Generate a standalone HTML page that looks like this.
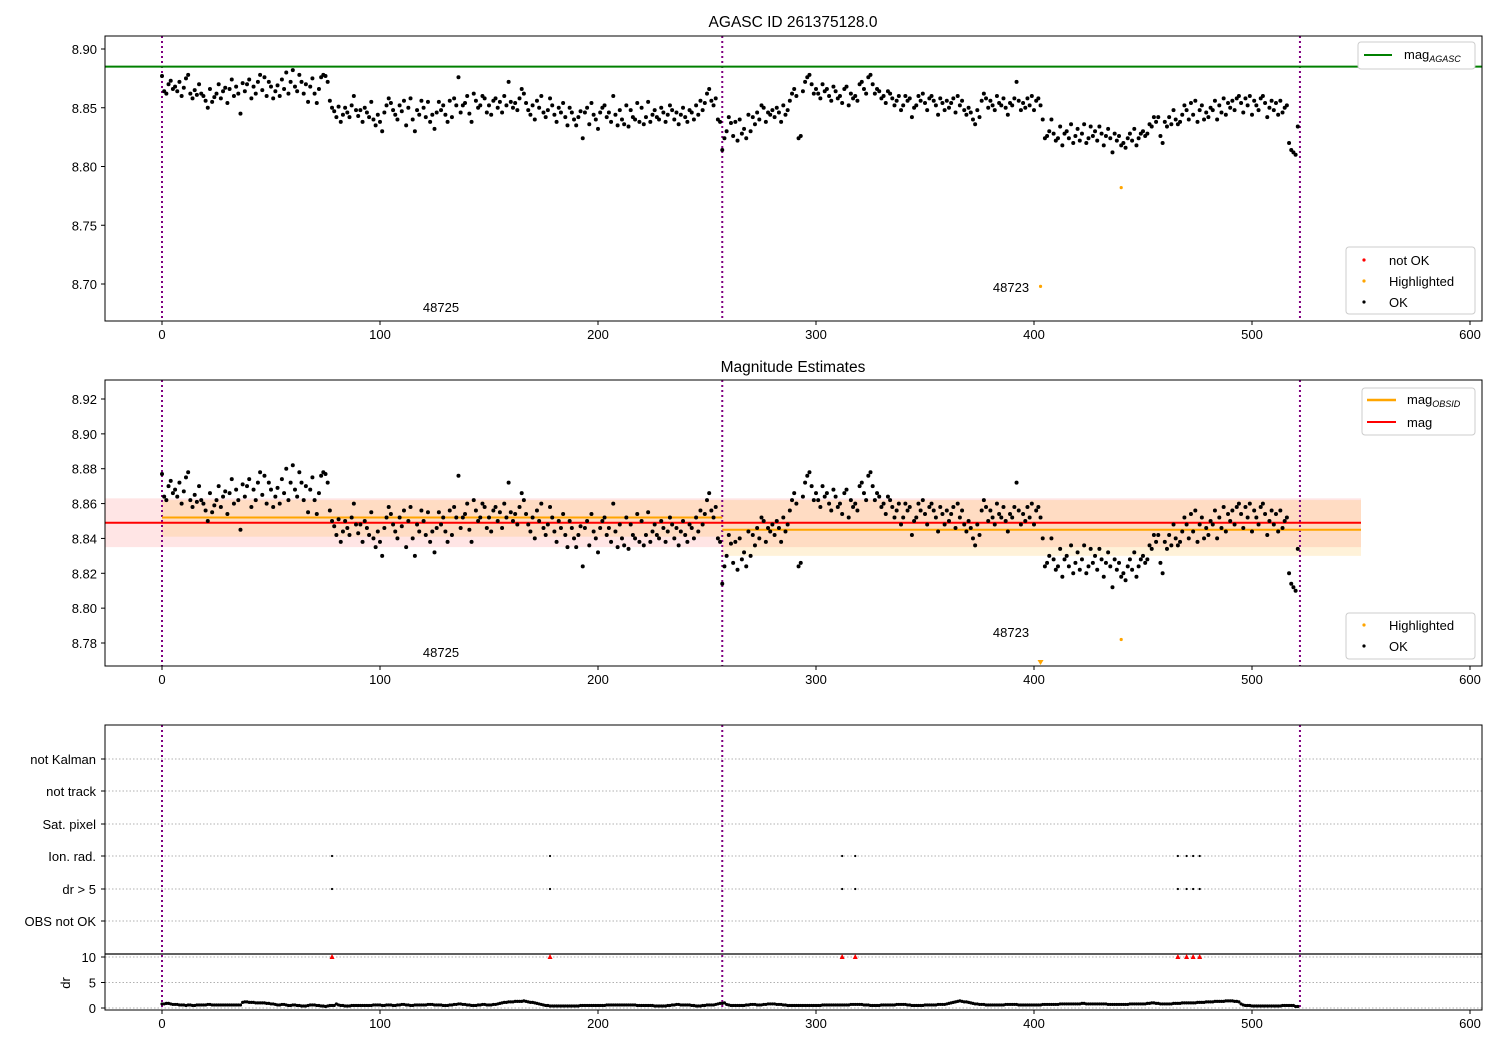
<!DOCTYPE html>
<html><head><meta charset="utf-8">
<style>
html,body{margin:0;padding:0;background:#fff;}
svg{display:block;font-family:"Liberation Sans","DejaVu Sans",sans-serif;}
</style></head>
<body>
<svg id="chart" width="1500" height="1050" viewBox="0 0 1500 1050" xmlns="http://www.w3.org/2000/svg"></svg>
<script>
// ---- data ----
const magMilli = [
77,64,62,70,73,66,68,64,72,60, 67,75,78,62,58,65,61,70,62,60, 56,50,66,55,59,62,70,58,64,67,
54,66,74,60,68,62,45,71,64,70, 74,58,68,62,72,78,65,76,60,72, 68,58,64,69,60,74,66,80,62,72,
82,68,64,78,72,62,70,55,68,75, 62,54,66,76,78,77,72,56,50,47, 42,51,38,44,50,46,42,52,60,48,
43,48,38,50,46,42,55,40,35,44, 38,30,46,52,58,54,48,44,40,52, 47,56,35,50,58,40,30,48,44,56,
50,42,55,38,44,32,46,55,48,52, 44,38,56,42,58,52,76,46,52,54, 60,45,38,62,56,50,52,60,58,46,
52,44,56,58,50,55,46,60,52,72, 55,50,54,48,58,66,62,54,48,44, 52,40,56,50,60,46,42,48,58,52,
44,38,50,46,54,42,35,50,46,40, 35,42,47,24,46,50,36,54,44,40, 32,46,50,52,42,46,38,60,44,35,
48,40,36,52,34,48,42,40,54,38, 50,36,42,55,38,44,48,42,40,50, 46,38,44,52,48,40,46,36,44,50,
42,38,48,46,40,52,44,56,48,54, 62,66,56,52,58,40,38,14,24,30, 42,37,26,38,22,40,28,32,24,44,
30,42,36,46,40,52,50,38,46,44, 48,42,50,46,38,52,44,48,56,62, 66,60,24,26,64,72,76,78,70,62,
66,62,58,70,64,66,60,56,68,64, 58,60,54,66,68,52,62,58,60,56, 70,72,66,62,76,78,70,62,66,64,
58,60,54,64,62,58,52,56,60,48, 52,60,56,58,42,50,52,60,56,62, 54,48,58,60,56,52,44,58,54,48,
56,50,54,58,46,60,52,56,48,44, 50,46,40,36,48,42,56,62,58,50, 56,52,48,60,54,52,58,50,44,54,
52,58,72,56,48,54,50,58,52,60, 48,56,58,52,40,24,26,30,40,28, 22,24,34,18,28,30,24,36,20,26,
32,22,28,36,20,24,34,26,30,22, 34,28,18,26,32,24,12,28,22,26, 18,20,16,24,28,22,32,18,24,28,
30,26,28,36,34,42,38,42,26,20, 38,34,42,36,48,40,36,38,44,52, 48,40,54,44,56,38,48,52,40,46,
42,50,48,56,40,52,46,58,44,54, 50,56,48,58,60,54,46,58,52,60, 44,56,52,48,58,60,54,42,50,56,
48,54,44,56,46,50,52,20,14,12, 10,34];
const drTenths = [
8,8,9,9,8,7,7,7,6,6, 6,5,6,6,5,5,6,6,6,6, 6,7,7,6,6,6,6,6,6,6, 6,6,6,6,6,6,6,11,12,12,
11,11,11,10,10,10,10,10,9,9, 8,8,7,6,6,7,7,6,5,5, 6,6,5,5,4,4,4,5,6,6, 6,5,5,4,4,3,4,5,5,5,
8,6,5,5,4,4,4,5,5,5, 5,5,5,5,5,5,5,6,6,6, 6,5,5,6,6,6,5,5,6,6, 7,7,6,6,5,5,6,6,6,6,
6,6,7,7,7,6,6,6,6,5, 5,5,6,6,7,7,8,8,7,7, 6,6,5,5,5,6,6,7,7,6, 6,6,7,7,8,9,10,11,11,12,
12,12,13,13,13,13,14,13,12,11, 11,10,9,8,7,6,5,5,4,4, 4,4,4,4,4,4,4,4,4,4, 4,4,5,5,5,5,5,5,5,5,
5,5,5,5,6,6,6,6,6,6, 6,6,6,6,6,6,6,6,5,5, 5,5,5,5,5,5,4,4,4,4, 4,4,5,5,6,6,7,7,6,6,
6,6,6,5,5,4,4,4,5,5, 6,6,6,6,7,8,9,9,10,7, 6,5,5,5,5,5,5,5,6,6, 7,7,7,6,6,6,7,7,8,8,
8,8,7,7,7,6,6,5,5,5, 5,5,5,5,5,5,5,5,5,5, 5,5,5,6,6,6,6,6,6,6, 6,6,6,6,6,6,7,7,7,7,
7,7,6,6,6,5,5,5,5,5, 6,6,6,6,6,6,6,7,7,7, 7,7,6,6,5,5,5,5,5,5, 6,6,6,6,6,6,7,7,7,7,
8,9,10,11,12,13,14,13,12,12, 11,10,9,8,8,7,7,7,6,6, 6,6,6,6,6,6,6,7,7,7, 7,7,7,6,6,6,6,6,6,6,
6,6,6,6,7,7,7,7,7,7, 7,7,8,8,8,8,8,8,8,8, 8,8,9,9,8,8,8,8,8,8, 8,8,8,8,7,7,7,7,7,7,
7,7,7,7,8,8,8,8,8,8, 8,8,9,9,10,10,9,9,8,8, 8,8,8,8,9,9,9,9,10,10, 10,10,10,10,10,11,11,11,11,12,
12,12,12,13,13,13,13,13,14,14, 14,14,13,13,12,8,6,5,5,5, 4,4,4,4,4,4,4,4,4,4, 4,4,4,4,5,5,5,5,5,5,
3,3];
const flagIdx = [78, 178, 312, 318, 466, 470, 473, 476];
const highlightIdx = [403, 440];
const highlightMag = [8.698, 8.782];
const obsBounds = [0, 257, 522];
const obsNames = ['48725', '48723'];
const magAgasc = 8.885;
const magAll = 8.849, magAllLo = 8.835, magAllHi = 8.863;
const obsMag = [8.852, 8.845];
const obsLo = [8.841, 8.830];
const obsHi = [8.862, 8.862];
const catLabels = ['not Kalman','not track','Sat. pixel','Ion. rad.','dr > 5','OBS not OK'];
const xTicks = [0,100,200,300,400,500,600];
const yTicksTop = [8.70,8.75,8.80,8.85,8.90];
const yTicksMid = [8.78,8.80,8.82,8.84,8.86,8.88,8.90,8.92];
const drTicks = [0,5,10];

// ---- scales ----
const L=105, R=1482;
const xs = v => 162 + 2.18*v;
const yT = m => 49 + (8.90-m)*1175;
const yM = m => 399 + (8.92-m)*1742.9;
const catY = [759,791,824,856,889,921];
const yD = d => 1008 - d*5.1;
const NS='http://www.w3.org/2000/svg';
const svg=document.getElementById('chart');
function mk(tag,attrs,parent){const e=document.createElementNS(NS,tag);for(const k in attrs)e.setAttribute(k,attrs[k]);(parent||svg).appendChild(e);return e;}
function txt(s,x,y,attrs,parent){const t=mk('text',Object.assign({x:x,y:y,'font-size':13,fill:'#000'},attrs||{}),parent);t.textContent=s;return t;}
const mags = magMilli.map(v=>8.8+v/1000);

// clip paths
const defs=mk('defs',{});
[['cT',36,285],['cM',380,286],['cB',725,285]].forEach(([id,y,h])=>{const c=mk('clipPath',{id:id},defs);mk('rect',{x:L,y:y,width:R-L,height:h},c);});

function xAxis(y0,g){
  xTicks.forEach(t=>{mk('line',{x1:xs(t),x2:xs(t),y1:y0,y2:y0+4,stroke:'#000'},g);
  const l=txt(String(t),xs(t),y0+18,{'text-anchor':'middle'},g);
  
  });
}
function vlines(g,y1,y2){obsBounds.forEach(b=>{const l=mk('line',{x1:xs(b),x2:xs(b),y1:y1,y2:y2,stroke:'#800080','stroke-width':2,'stroke-dasharray':'2,3'},g);

});}

// ===== TOP PANEL =====
const gT=mk('g',{});


const tt=txt('AGASC ID 261375128.0',793,27,{'text-anchor':'middle','font-size':15.5},gT);


const cT=mk('g',{'clip-path':'url(#cT)'},gT);
vlines(cT,36,321);
const ag=mk('line',{x1:L,x2:R,y1:yT(magAgasc),y2:yT(magAgasc),stroke:'#008000','stroke-width':2},cT);


mags.forEach((m,i)=>{const c=mk('circle',{cx:xs(i),cy:yT(m),r:2,fill:'#000'},cT);

});
highlightIdx.forEach((ix,k)=>{const c=mk('circle',{cx:xs(ix),cy:yT(highlightMag[k]),r:1.6,fill:'orange'},cT);

});
txt(obsNames[0],441,312,{'text-anchor':'middle'},gT);
txt(obsNames[1],1011,292,{'text-anchor':'middle'},gT);
mk('rect',{x:L,y:36,width:R-L,height:285,fill:'none',stroke:'#000'},gT);
yTicksTop.forEach(t=>{mk('line',{x1:L-4,x2:L,y1:yT(t),y2:yT(t),stroke:'#000'},gT);
const l=txt(t.toFixed(2),L-8,yT(t)+5,{'text-anchor':'end'},gT);

});
xAxis(321,gT);
// legends
function legendBox(x,y,w,h,name){const r=mk('rect',{x:x,y:y,width:w,height:h,rx:3,fill:'#fff',stroke:'#ccc'},svg);

return r;}
legendBox(1358,42,117,27,'legend-agasc');
mk('line',{x1:1364,x2:1392,y1:55,y2:55,stroke:'#008000','stroke-width':2});
const la=txt('mag',1404,59,{});mk('tspan',{'font-size':9,'font-style':'italic',dy:3},la).textContent='AGASC';
legendBox(1346,247,129,67,'legend-status');
[['red','not OK',260],['orange','Highlighted',281],['#000','OK',302]].forEach(([c,s,y])=>{
mk('circle',{cx:1364,cy:y,r:1.6,fill:c});const e=txt(s,1389,y+5,{});

});

// ===== MIDDLE PANEL =====
const gM=mk('g',{});


const mt=txt('Magnitude Estimates',793,372,{'text-anchor':'middle','font-size':15.5},gM);


const cM=mk('g',{'clip-path':'url(#cM)'},gM);
mk('rect',{x:L,y:yM(magAllHi),width:xs(550)-L,height:yM(magAllLo)-yM(magAllHi),fill:'red','fill-opacity':0.1},cM);
for(let k=0;k<2;k++){
  const x1=xs(obsBounds[k]), x2=k==1?xs(550):xs(obsBounds[k+1]);
  mk('rect',{x:x1,y:yM(obsHi[k]),width:x2-x1,height:yM(obsLo[k])-yM(obsHi[k]),fill:'orange','fill-opacity':0.15},cM);
}
vlines(cM,380,666);
for(let k=0;k<2;k++){
  const x1=xs(obsBounds[k]), x2=k==1?xs(550):xs(obsBounds[k+1]);
  const l=mk('line',{x1:x1,x2:x2,y1:yM(obsMag[k]),y2:yM(obsMag[k]),stroke:'orange','stroke-width':2},cM);
  
  
}
const rl=mk('line',{x1:L,x2:xs(550),y1:yM(magAll),y2:yM(magAll),stroke:'red','stroke-width':2},cM);


mags.forEach((m,i)=>{const c=mk('circle',{cx:xs(i),cy:yM(m),r:2,fill:'#000'},cM);

});
highlightIdx.forEach((ix,k)=>{const m=highlightMag[k];
 if(yM(m)>666){const x=xs(ix);mk('path',{d:`M${x-3},${660} L${x+3},${660} L${x},${665} Z`,fill:'orange'},gM);}
 else {const c=mk('circle',{cx:xs(ix),cy:yM(m),r:1.6,fill:'orange'},cM);
 
 }});
txt(obsNames[0],441,657,{'text-anchor':'middle'},gM);
txt(obsNames[1],1011,637,{'text-anchor':'middle'},gM);
mk('rect',{x:L,y:380,width:R-L,height:286,fill:'none',stroke:'#000'},gM);
yTicksMid.forEach(t=>{mk('line',{x1:L-4,x2:L,y1:yM(t),y2:yM(t),stroke:'#000'},gM);
const l=txt(t.toFixed(2),L-8,yM(t)+5,{'text-anchor':'end'},gM);

});
xAxis(666,gM);
legendBox(1362,388,113,47,'legend-mag');
mk('line',{x1:1367,x2:1396,y1:400,y2:400,stroke:'orange','stroke-width':2.5});
const lo=txt('mag',1407,404,{});mk('tspan',{'font-size':9,'font-style':'italic',dy:3},lo).textContent='OBSID';
mk('line',{x1:1367,x2:1396,y1:422,y2:422,stroke:'red','stroke-width':2});
txt('mag',1407,427,{});
legendBox(1346,613,129,46,'legend-status-mid');
[['orange','Highlighted',625],['#000','OK',646]].forEach(([c,s,y])=>{
mk('circle',{cx:1364,cy:y,r:1.6,fill:c});const e=txt(s,1389,y+5,{});

});

// ===== BOTTOM PANEL =====
const gB=mk('g',{});


catY.forEach((y,k)=>{mk('line',{x1:L,x2:R,y1:y,y2:y,stroke:'#b0b0b0','stroke-dasharray':'1.5,2'},gB);
mk('line',{x1:L-4,x2:L,y1:y,y2:y,stroke:'#000'},gB);
const l=txt(catLabels[k],L-9,y+5,{'text-anchor':'end'},gB);

});
drTicks.forEach(t=>{mk('line',{x1:L,x2:R,y1:yD(t),y2:yD(t),stroke:'#b0b0b0','stroke-dasharray':'1.5,2'},gB);
mk('line',{x1:L-4,x2:L,y1:yD(t),y2:yD(t),stroke:'#000'},gB);
txt(String(t),L-9,yD(t)+5,{'text-anchor':'end'},gB);});
txt('dr',70,983,{'text-anchor':'middle',transform:'rotate(-90 70 983)'},gB);
const cB=mk('g',{'clip-path':'url(#cB)'},gB);
vlines(cB,725,1010);
mk('line',{x1:L,x2:R,y1:954,y2:954,stroke:'#000','stroke-width':1.2},gB);
drTenths.forEach((d,i)=>{const c=mk('circle',{cx:xs(i),cy:yD(d/10),r:1.6,fill:'#000'},cB);

});
flagIdx.forEach(ix=>{const x=xs(ix);
[catY[3],catY[4]].forEach(y=>{const c=mk('circle',{cx:x,cy:y,r:1.1,fill:'#000'},gB);

});
const tr=mk('path',{d:`M${x-2.5},${yD(10)+2} L${x+2.5},${yD(10)+2} L${x},${yD(10)-3} Z`,fill:'red'},gB);

});
mk('rect',{x:L,y:725,width:R-L,height:285,fill:'none',stroke:'#000'},gB);
xAxis(1010,gB);
</script>
</body></html>
